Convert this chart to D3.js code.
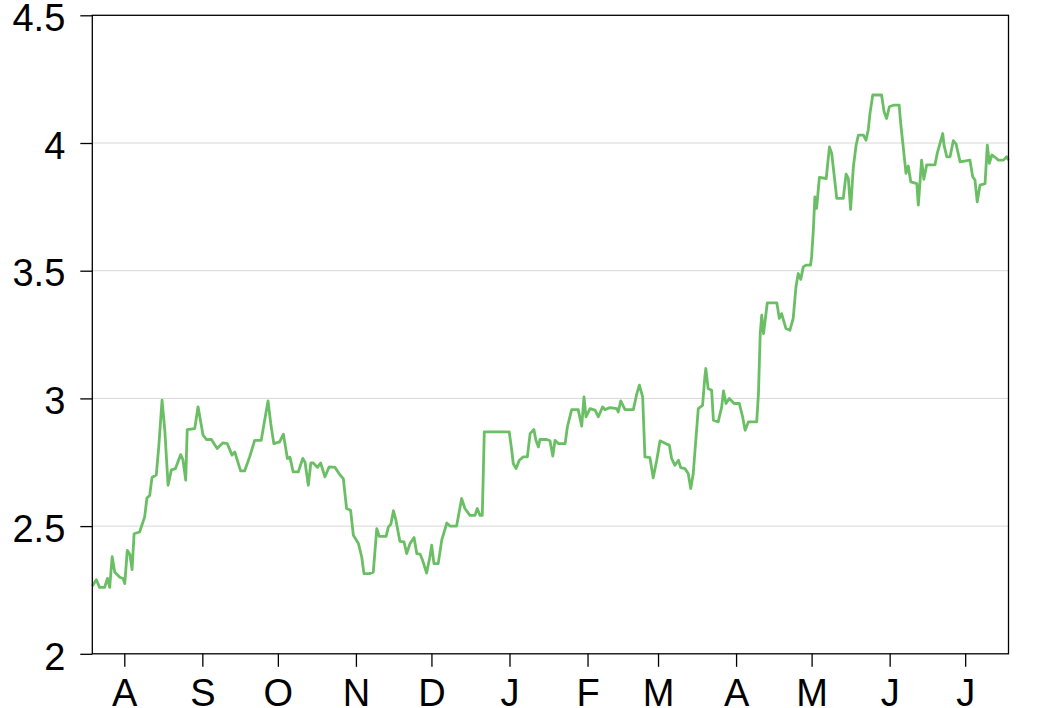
<!DOCTYPE html>
<html>
<head>
<meta charset="utf-8">
<script src="https://cdn.jsdelivr.net/npm/d3@7/dist/d3.min.js"></script>
<style>
  html, body { margin: 0; padding: 0; background: #fff; }
  svg { display: block; font-family: "Liberation Sans", Arial, Helvetica, sans-serif; }
</style>
</head>
<body>
<svg id="chart" width="1040" height="708"></svg>
<script>
// ---- data ----
const startDate = "2014-07-19T07:00:00";
const endDate = "2015-07-18T05:00:00";
// day offsets from startDate
const days = [
  0, 1.6, 2.9, 4.9, 6.0, 6.9, 7.9, 8.9, 10.9, 12.2, 12.9, 13.9, 14.9, 15.8, 16.6, 18.8, 20.8, 21.7, 22.8, 23.7,
  25.4, 26.4, 27.7, 28.8, 30.1, 31.4, 33.0, 35.1, 36.0, 37.1, 37.7, 40.7, 42.0, 44.0, 45.3, 47.3, 49.6, 51.9, 53.6, 55.5,
  56.6, 58.9, 60.5, 62.5, 64.5, 67.1, 68.2, 69.8, 70.9, 72.1, 74.4, 75.9, 77.5, 78.5, 79.8, 81.8, 83.6, 84.5, 85.8, 86.8,
  87.8, 89.4, 90.7, 92.4, 94.1, 96.4, 98.4, 99.7, 101.0, 102.6, 103.7, 105.7, 107.0, 107.9, 110.0, 111.6, 113.0, 114.0, 116.7, 117.6,
  118.6, 119.6, 120.6, 122.2, 123.8, 124.9, 126.2, 127.8, 128.9, 130.2, 131.2, 132.8, 134.1, 134.8, 135.7, 137.4, 138.8, 140.8, 142.1, 144.7,
  146.7, 148.0, 150.0, 152.0, 152.9, 154.0, 154.9, 155.7, 165.6, 166.6, 167.2, 168.3, 169.6, 171.2, 172.8, 173.9, 175.4, 176.2, 177.2, 177.8,
  180.5, 181.8, 182.9, 183.8, 185.1, 187.8, 188.7, 190.4, 193.0, 194.4, 195.3, 196.1, 197.7, 199.7, 201.0, 202.7, 203.6, 205.6, 208.3, 208.9,
  209.9, 211.6, 214.9, 216.3, 217.3, 218.6, 219.5, 221.5, 222.8, 224.2, 225.5, 228.1, 229.2, 230.1, 231.4, 232.8, 233.7, 235.4, 236.7, 237.7,
  238.7, 239.4, 240.7, 242.4, 243.3, 243.7, 244.6, 246.0, 246.7, 248.6, 250.0, 250.7, 251.7, 253.0, 254.9, 257.0, 258.3, 259.3, 260.6, 263.9,
  264.6, 265.3, 265.9, 266.6, 267.2, 268.1, 271.9, 272.9, 273.8, 275.5, 277.1, 278.4, 279.5, 280.4, 281.4, 282.4, 283.5, 285.3, 285.7, 286.4,
  287.0, 287.7, 288.8, 291.5, 292.8, 293.7, 295.7, 298.3, 299.4, 300.3, 301.2, 302.3, 303.4, 304.3, 306.3, 307.3, 308.2, 308.9, 310.0, 313.5,
  314.5, 315.5, 316.6, 318.2, 320.5, 321.1, 322.1, 323.2, 324.1, 325.1, 327.5, 328.1, 329.4, 330.3, 331.4, 334.7, 335.6, 337.8, 338.3, 339.4,
  340.7, 342.0, 343.1, 344.7, 348.6, 349.7, 350.6, 351.5, 352.6, 354.6, 355.5, 356.3, 357.3, 358.6, 359.9, 361.9, 363.2, 363.9
];
const values = [
  2.265, 2.29, 2.26, 2.26, 2.295, 2.26, 2.38, 2.32, 2.30, 2.295, 2.275, 2.405, 2.39, 2.33, 2.47, 2.477, 2.536, 2.61, 2.62, 2.69,
  2.70, 2.81, 2.993, 2.875, 2.66, 2.72, 2.725, 2.78, 2.76, 2.68, 2.878, 2.882, 2.967, 2.856, 2.839, 2.839, 2.804, 2.826, 2.823, 2.778,
  2.79, 2.716, 2.716, 2.771, 2.836, 2.836, 2.90, 2.99, 2.90, 2.823, 2.83, 2.86, 2.765, 2.77, 2.712, 2.712, 2.765, 2.75, 2.66, 2.747,
  2.747, 2.73, 2.747, 2.693, 2.732, 2.73, 2.70, 2.686, 2.569, 2.562, 2.464, 2.432, 2.38, 2.314, 2.314, 2.32, 2.49, 2.46, 2.46, 2.497,
  2.507, 2.56, 2.523, 2.44, 2.438, 2.392, 2.432, 2.455, 2.392, 2.39, 2.366, 2.316, 2.38, 2.425, 2.353, 2.353, 2.445, 2.512, 2.50, 2.50,
  2.608, 2.569, 2.542, 2.542, 2.569, 2.542, 2.542, 2.869, 2.869, 2.797, 2.745, 2.725, 2.758, 2.771, 2.771, 2.862, 2.878, 2.836, 2.81, 2.839,
  2.839, 2.834, 2.774, 2.836, 2.823, 2.823, 2.888, 2.956, 2.956, 2.891, 3.006, 2.928, 2.96, 2.954, 2.928, 2.967, 2.956, 2.964, 2.96, 2.947,
  2.99, 2.956, 2.956, 3.019, 3.052, 3.006, 2.771, 2.768, 2.689, 2.758, 2.834, 2.821, 2.817, 2.765, 2.738, 2.758, 2.729, 2.725, 2.706, 2.647,
  2.706, 2.797, 2.96, 2.973, 3.084, 3.117, 3.039, 3.032, 2.915, 2.908, 2.967, 3.029, 2.98, 3.0, 2.98, 2.98, 2.928, 2.875, 2.908, 2.908,
  3.019, 3.254, 3.326, 3.254, 3.30, 3.374, 3.374, 3.313, 3.332, 3.274, 3.267, 3.313, 3.437, 3.489, 3.466, 3.515, 3.522, 3.522, 3.554, 3.659,
  3.789, 3.744, 3.865, 3.861, 3.985, 3.959, 3.783, 3.783, 3.878, 3.861, 3.74, 3.907, 3.992, 4.031, 4.031, 4.011, 4.051, 4.116, 4.188, 4.188,
  4.122, 4.096, 4.142, 4.148, 4.148, 4.077, 3.985, 3.881, 3.91, 3.848, 3.841, 3.757, 3.933, 3.858, 3.914, 3.914, 3.959, 4.037, 3.992, 3.946,
  3.946, 4.009, 3.996, 3.926, 3.933, 3.868, 3.855, 3.77, 3.835, 3.841, 3.992, 3.92, 3.953, 3.944, 3.933, 3.933, 3.946, 3.933
];
const yTicks = [2, 2.5, 3, 3.5, 4, 4.5];
const yTickLabels = ["2", "2.5", "3", "3.5", "4", "4.5"];
const monthLetters = ["J", "F", "M", "A", "M", "J", "J", "A", "S", "O", "N", "D"];

// ---- layout ----
const plotL = 92.3, plotR = 1008.5, plotT = 15.3, plotB = 653.8;
const svg = d3.select("#chart");
const t0 = new Date(startDate), t1 = new Date(endDate);
const x = d3.scaleTime().domain([t0, t1]).range([plotL, plotR]);
const y = d3.scaleLinear().domain([2, 4.5]).range([plotB, plotT]);

const data = days.map((d, i) => ({ date: new Date(t0.getTime() + d * 86400000), value: values[i] }));

// grid lines
svg.append("g").selectAll("line")
  .data(yTicks.filter(v => v > 2 && v < 4.5))
  .join("line")
  .attr("x1", plotL).attr("x2", plotR)
  .attr("y1", d => y(d)).attr("y2", d => y(d))
  .attr("stroke", "#d8d8d8").attr("stroke-width", 1);

// line
svg.append("path")
  .datum(data)
  .attr("fill", "none")
  .attr("stroke", "#6abf64")
  .attr("stroke-width", 2.8)
  .attr("stroke-linejoin", "round")
  .attr("d", d3.line().x(d => x(d.date)).y(d => y(d.value)));

// frame
svg.append("rect")
  .attr("x", plotL).attr("y", plotT)
  .attr("width", plotR - plotL).attr("height", plotB - plotT)
  .attr("fill", "none").attr("stroke", "#000").attr("stroke-width", 1.3);

// y axis
const yAxis = svg.append("g")
  .attr("transform", `translate(${plotL},0)`)
  .call(d3.axisLeft(y).tickValues(yTicks).tickFormat((d, i) => yTickLabels[i]).tickSize(12).tickPadding(15));
yAxis.select(".domain").remove();
yAxis.selectAll("line").attr("stroke", "#000").attr("stroke-width", 1.3);
yAxis.selectAll("text").attr("font-size", 38).attr("fill", "#000").attr("dy", "0.4em")
  .attr("font-family", "'Liberation Sans', Arial, sans-serif");

// x axis
const xAxis = svg.append("g")
  .attr("transform", `translate(0,${plotB})`)
  .call(d3.axisBottom(x).ticks(d3.timeMonth.every(1)).tickFormat(d => monthLetters[d.getMonth()]).tickSize(13).tickPadding(12));
xAxis.select(".domain").remove();
xAxis.selectAll("line").attr("stroke", "#000").attr("stroke-width", 1.3);
xAxis.selectAll("text").attr("font-size", 38).attr("fill", "#000")
  .attr("font-family", "'Liberation Sans', Arial, sans-serif");
</script>
</body>
</html>
